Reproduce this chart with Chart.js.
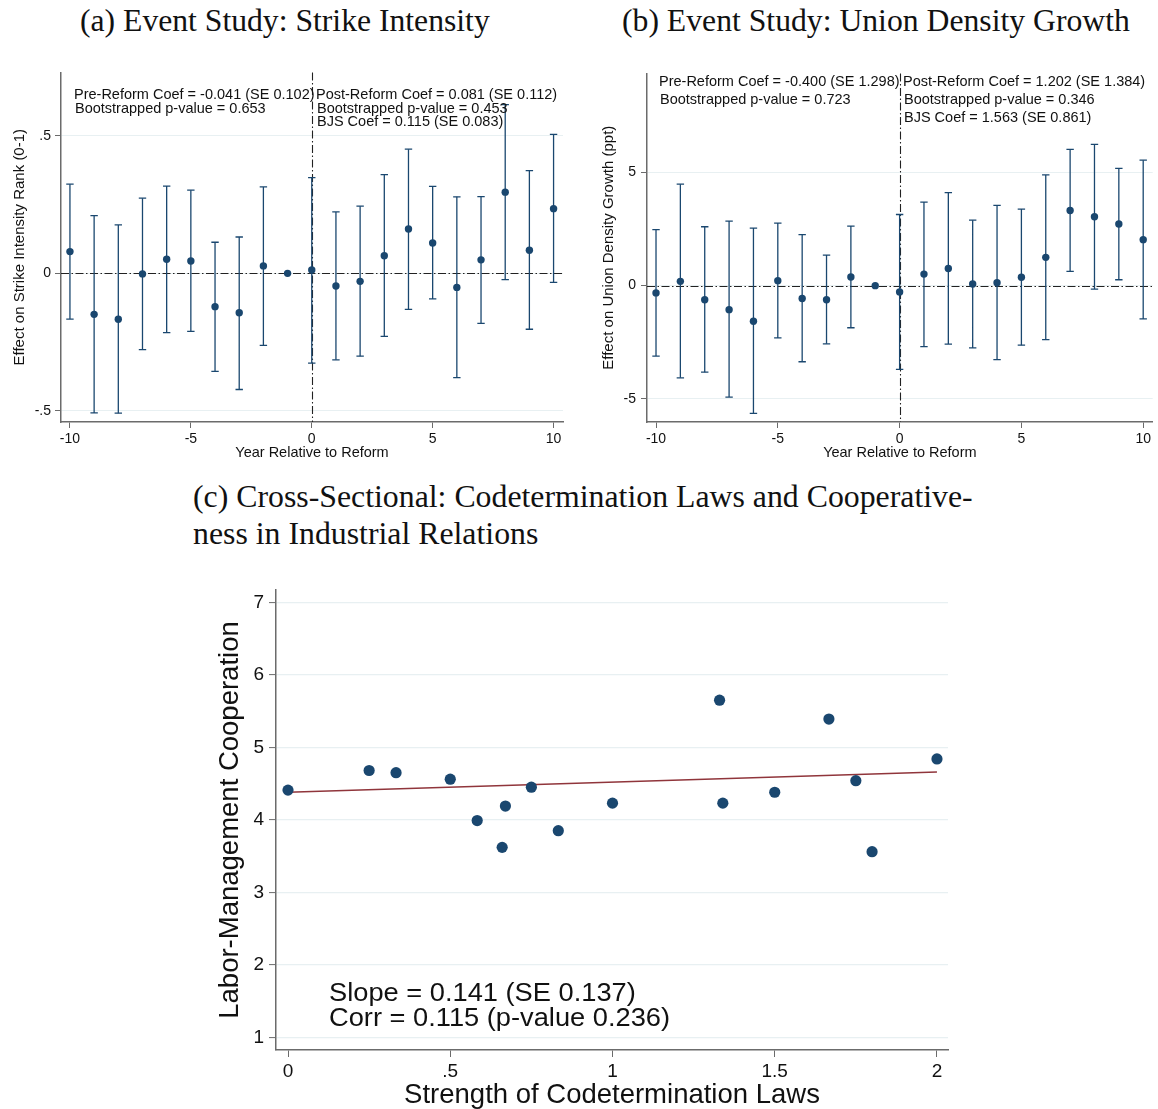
<!DOCTYPE html>
<html>
<head>
<meta charset="utf-8">
<script src="https://cdn.jsdelivr.net/npm/chart.js@4"></script>
<style>
  html,body{margin:0;padding:0;background:#fff;}
  body{width:1158px;height:1109px;position:relative;overflow:hidden;}
  canvas{position:absolute;}
  .ttl{position:absolute;font-family:"Liberation Serif",serif;font-size:28px;line-height:1;white-space:nowrap;color:#111;}
  .ann{position:absolute;font-family:"Liberation Sans",Arial,sans-serif;white-space:nowrap;color:#111;transform-origin:0 0;}
  .ann .in{padding-left:1px;}
</style>
</head>
<body>
<div class="ttl" id="tA" style="left:80px;">(a) Event Study: Strike Intensity</div>
<div class="ttl" id="tB" style="left:622px;">(b) Event Study: Union Density Growth</div>
<div class="ttl" id="tC1" style="left:193px;">(c) Cross-Sectional: Codetermination Laws and Cooperative-</div>
<div class="ttl" id="tC2" style="left:193px;">ness in Industrial Relations</div>

<canvas id="cA" width="580" height="410" style="left:0px;top:60px;width:580px;height:410px;"></canvas>
<canvas id="cB" width="578" height="410" style="left:580px;top:60px;width:578px;height:410px;"></canvas>
<canvas id="cC" width="780" height="539" style="left:200px;top:570px;width:780px;height:539px;"></canvas>

<div class="ann" style="left:74px;top:88px;font-size:14.5px;line-height:13.5px;">Pre-Reform Coef = -0.041 (SE 0.102)<br><span class="in">Bootstrapped p-value = 0.653</span></div>
<div class="ann" style="left:316px;top:88px;font-size:14.5px;line-height:13.5px;">Post-Reform Coef = 0.081 (SE 0.112)<br><span class="in">Bootstrapped p-value = 0.453</span><br><span class="in">BJS Coef = 0.115 (SE 0.083)</span></div>
<div class="ann" style="left:659px;top:72px;font-size:14.5px;line-height:18px;">Pre-Reform Coef = -0.400 (SE 1.298)<br><span class="in">Bootstrapped p-value = 0.723</span></div>
<div class="ann" style="left:903px;top:72px;font-size:14.5px;line-height:18px;">Post-Reform Coef = 1.202 (SE 1.384)<br><span class="in">Bootstrapped p-value = 0.346</span><br><span class="in">BJS Coef = 1.563 (SE 0.861)</span></div>
<div class="ann" style="left:329px;top:980px;font-size:25px;line-height:25px;transform:scaleX(1.09);">Slope = 0.141 (SE 0.137)<br>Corr = 0.115 (p-value 0.236)</div>

<script>
// ---------------- DATA ----------------
const years = [-10,-9,-8,-7,-6,-5,-4,-3,-2,-1,0,1,2,3,4,5,6,7,8,9,10];

// Panel (a): strike intensity
const coefA = [0.079,-0.149,-0.167,-0.002,0.051,0.045,-0.121,-0.143,0.027,0,0.012,-0.046,-0.029,0.064,0.161,0.110,-0.051,0.049,0.295,0.084,0.235];
const hiA   = [0.324,0.210,0.176,0.273,0.317,0.302,0.113,0.132,0.314,null,0.348,0.223,0.244,0.359,0.451,0.316,0.278,0.279,0.613,0.373,0.505];
const loA   = [-0.166,-0.507,-0.508,-0.277,-0.215,-0.211,-0.356,-0.422,-0.262,null,-0.326,-0.314,-0.301,-0.229,-0.131,-0.093,-0.379,-0.182,-0.023,-0.203,-0.033];

// Panel (b): union density growth
const coefB = [-0.32,0.19,-0.62,-1.06,-1.57,0.22,-0.57,-0.62,0.38,0,-0.28,0.51,0.76,0.07,0.13,0.37,1.25,3.32,3.04,2.72,2.03];
const hiB   = [2.47,4.48,2.60,2.85,2.54,2.76,2.25,1.35,2.63,null,3.14,3.69,4.11,2.89,3.54,3.38,4.89,6.02,6.24,5.18,5.54];
const loB   = [-3.11,-4.07,-3.82,-4.92,-5.64,-2.31,-3.36,-2.57,-1.86,null,-3.70,-2.69,-2.58,-2.75,-3.27,-2.63,-2.38,0.63,-0.15,0.26,-1.47];

// Panel (c): cross-section
const strength = [0,0.25,0.333,0.5,0.583,0.67,0.66,0.75,0.833,1,1.33,1.34,1.5,1.667,1.75,1.8,2];
const coop     = [4.41,4.68,4.65,4.56,3.99,4.19,3.62,4.45,3.85,4.23,5.65,4.23,4.38,5.39,4.54,3.56,4.84];
const fitX = [0, 2];
const fitY = [4.38, 4.66];

// Tick values / labels
const xTicksAB = [-10,-5,0,5,10];
const xTickLabelsAB = ['-10','-5','0','5','10'];
const yTicksA = [-0.5,0,0.5];
const yTickLabelsA = ['-.5','0','.5'];
const yTicksB = [-5,0,5];
const yTickLabelsB = ['-5','0','5'];
const xTicksC = [0,0.5,1,1.5,2];
const xTickLabelsC = ['0','.5','1','1.5','2'];
const yTicksC = [1,2,3,4,5,6,7];
const yTickLabelsC = ['1','2','3','4','5','6','7'];

// ---------------- STYLE ----------------
const NAVY = '#1a476f';
const MAROON = '#90353b';
const GRID = '#e8f0f2';
const AXIS = '#6b6b6b';
Chart.defaults.font.family = '"Liberation Sans", Arial, sans-serif';
Chart.defaults.color = '#111';

// titles: fit serif text to reference widths
function fitTitle(el, targetW, cy) {
  const ctx = document.createElement('canvas').getContext('2d');
  ctx.font = '28px "Liberation Serif"';
  const w = ctx.measureText(el.textContent).width;
  const s = 28 * targetW / w;
  el.style.fontSize = s + 'px';
  el.style.top = (cy - s * 0.5) + 'px';
  return s;
}
fitTitle(document.getElementById('tA'), 410, 20.5);
fitTitle(document.getElementById('tB'), 508, 20.5);
const sC = fitTitle(document.getElementById('tC1'), 780, 497);
const tC2 = document.getElementById('tC2');
tC2.style.fontSize = sC + 'px';
tC2.style.top = (534 - sC * 0.5) + 'px';

// reference lines plugin (x=0 and y=0)
const refLines = {
  id: 'refLines',
  beforeDatasetsDraw(chart, args, opts) {
    if (!opts || !opts.on) return;
    const {ctx, chartArea: a, scales: {x, y}} = chart;
    ctx.save();
    ctx.strokeStyle = '#222';
    ctx.lineWidth = 1.1;
    ctx.setLineDash([8, 2.5, 1.5, 2.5]);
    const py = Math.round(y.getPixelForValue(0)) + 0.5;
    ctx.beginPath(); ctx.moveTo(a.left, py); ctx.lineTo(a.right, py); ctx.stroke();
    const px = Math.round(x.getPixelForValue(0)) + 0.5;
    ctx.beginPath(); ctx.moveTo(px, a.top); ctx.lineTo(px, a.bottom); ctx.stroke();
    ctx.restore();
  }
};

function ciSegments(xs, lo, hi) {
  const d = [];
  xs.forEach((x, i) => {
    if (lo[i] == null || hi[i] == null) return;
    d.push({x, y: lo[i]}, {x, y: hi[i]}, {x, y: null});
  });
  return d;
}
function pts(xs, ys) {
  return xs.map((x, i) => ({x, y: ys[i]})).filter(p => p.y != null);
}
function fixedTicks(vals) {
  return function (scale) { scale.ticks = vals.map(v => ({value: v})); };
}

function eventStudy(id, coef, lo, hi, cfg) {
  new Chart(document.getElementById(id), {
    type: 'scatter',
    data: {
      datasets: [
        { data: pts(years, coef), pointRadius: 3.7, pointHoverRadius: 3.7, pointBackgroundColor: NAVY, pointBorderWidth: 0, showLine: false },
        { data: pts(years, hi), pointStyle: 'line', pointRadius: 3.7, pointBorderColor: NAVY, pointBorderWidth: 1.3, showLine: false },
        { data: pts(years, lo), pointStyle: 'line', pointRadius: 3.7, pointBorderColor: NAVY, pointBorderWidth: 1.3, showLine: false },
        { data: ciSegments(years, lo, hi), showLine: true, spanGaps: false, borderColor: NAVY, borderWidth: 1.3, pointRadius: 0 }
      ]
    },
    options: {
      responsive: false, animation: false,
      layout: { padding: { left: 0, right: cfg.padRight, top: 12, bottom: 0 } },
      plugins: { legend: {display: false}, tooltip: {enabled: false}, refLines: {on: true} },
      scales: {
        x: {
          type: 'linear', min: -10.37, max: 10.39,
          afterBuildTicks: fixedTicks(xTicksAB),
          afterFit: s => { s.height = 48; },
          ticks: { autoSkip: false, maxRotation: 0, padding: 3, font: {size: 14}, callback: (v, i) => xTickLabelsAB[i] },
          grid: { drawOnChartArea: false, drawTicks: true, tickLength: 6, tickColor: AXIS, tickWidth: 1 },
          border: { display: true, color: AXIS, width: 1.5 },
          title: { display: true, text: 'Year Relative to Reform', font: {size: 14.5}, padding: {top: 0, bottom: 8} }
        },
        y: {
          type: 'linear', min: cfg.ymin, max: cfg.ymax,
          afterBuildTicks: fixedTicks(cfg.yTicks),
          afterFit: s => { s.width = cfg.yWidth; },
          ticks: { autoSkip: false, maxRotation: 0, padding: cfg.yPad, font: {size: 14}, callback: (v, i) => cfg.yLabels[i] },
          grid: { drawOnChartArea: true, color: GRID, lineWidth: 1, drawTicks: true, tickLength: 6, tickColor: AXIS, tickWidth: 1 },
          border: { display: true, color: AXIS, width: 1.5 },
          title: { display: true, text: cfg.yTitle, font: {size: 15}, padding: {top: cfg.yTitlePad, bottom: 0} }
        }
      }
    },
    plugins: [refLines]
  });
}

eventStudy('cA', coefA, loA, hiA, {
  padRight: 17, ymin: -0.54, ymax: 0.73, yTicks: yTicksA, yLabels: yTickLabelsA,
  yWidth: 61, yPad: 4, yTitle: 'Effect on Strike Intensity Rank (0-1)', yTitlePad: 11
});
eventStudy('cB', coefB, loB, hiB, {
  padRight: 5, ymin: -6.02, ymax: 9.37, yTicks: yTicksB, yLabels: yTickLabelsB,
  yWidth: 67, yPad: 5, yTitle: 'Effect on Union Density Growth (ppt)', yTitlePad: 20
});

new Chart(document.getElementById('cC'), {
  type: 'scatter',
  data: {
    datasets: [
      { data: pts(strength, coop), pointRadius: 5.6, pointHoverRadius: 5.6, pointBackgroundColor: NAVY, pointBorderWidth: 0, showLine: false },
      { data: pts(fitX, fitY), showLine: true, borderColor: MAROON, borderWidth: 1.6, pointRadius: 0 }
    ]
  },
  options: {
    responsive: false, animation: false,
    layout: { padding: { left: 0, right: 32, top: 20, bottom: 0 } },
    plugins: { legend: {display: false}, tooltip: {enabled: false} },
    scales: {
      x: {
        type: 'linear', min: -0.037, max: 2.034,
        afterBuildTicks: fixedTicks(xTicksC),
        afterFit: s => { s.height = 59; },
        ticks: { autoSkip: false, maxRotation: 0, padding: 3, font: {size: 19}, callback: (v, i) => xTickLabelsC[i] },
        grid: { drawOnChartArea: false, drawTicks: true, tickLength: 7, tickColor: AXIS, tickWidth: 1 },
        border: { display: true, color: AXIS, width: 1.5 },
        title: { display: true, text: 'Strength of Codetermination Laws', font: {size: 27.5, lineHeight: 1.0}, padding: {top: 0, bottom: 0} }
      },
      y: {
        type: 'linear', min: 0.825, max: 7.17,
        afterBuildTicks: fixedTicks(yTicksC),
        afterFit: s => { s.width = 76; },
        ticks: { autoSkip: false, maxRotation: 0, padding: 5, font: {size: 19}, callback: (v, i) => yTickLabelsC[i] },
        grid: { drawOnChartArea: true, color: GRID, lineWidth: 1.2, drawTicks: true, tickLength: 7, tickColor: AXIS, tickWidth: 1 },
        border: { display: true, color: AXIS, width: 1.5 },
        title: { display: true, text: 'Labor-Management Cooperation', font: {size: 27.5, lineHeight: 1.2}, padding: {top: 13.5, bottom: 0} }
      }
    }
  }
});
</script>
</body>
</html>
